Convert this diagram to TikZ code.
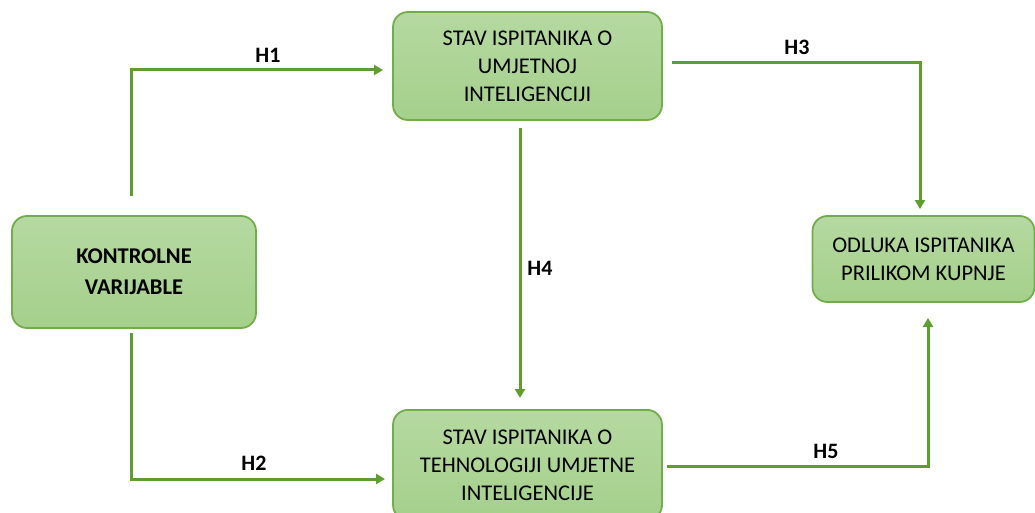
\documentclass[tikz,border=0pt]{standalone}
\usepackage{fontspec}
\setmainfont{Carlito}
\usetikzlibrary{arrows.meta}
\definecolor{boxtop}{HTML}{B5D9A1}
\definecolor{boxbot}{HTML}{A5D08B}
\definecolor{boxline}{HTML}{72AD4C}
\definecolor{linkc}{HTML}{5E9E30}
\tikzset{
  box/.style={draw=boxline, line width=1.8pt, rounded corners=15pt, top color=boxtop, bottom color=boxbot, align=center, font=\fontsize{22.5}{28}\selectfont, inner sep=0pt},
  link/.style={draw=linkc, line width=3pt, -{Triangle[length=9pt,width=10pt]}},
  hlab/.style={font=\fontsize{22}{24}\selectfont\bfseries}
}
\begin{document}
\begin{tikzpicture}[x=1pt,y=-1pt]
\useasboundingbox (0,0) rectangle (1035,513);
\node[box, minimum width=269pt, minimum height=108pt] (top) at (527.5,66) {STAV ISPITANIKA O\\UMJETNOJ\\INTELIGENCIJI};
\node[box, minimum width=244pt, minimum height=112pt, font=\fontsize{22.5}{31}\selectfont\bfseries] (left) at (134,272) {KONTROLNE\\VARIJABLE};
\node[box, minimum width=222pt, minimum height=86pt] (right) at (923.5,259) {ODLUKA ISPITANIKA\\PRILIKOM KUPNJE};
\node[box, minimum width=269pt, minimum height=110pt, anchor=north] (bot) at (527.5,409) {STAV ISPITANIKA O\\TEHNOLOGIJI UMJETNE\\INTELIGENCIJE};
\coordinate (a1) at (131,196);
\coordinate (b1) at (383,70);
\draw[link] (a1) |- (b1);
\coordinate (a2) at (131,333);
\coordinate (b2) at (385,479);
\draw[link] (a2) |- (b2);
\coordinate (a3) at (672,63);
\coordinate (b3) at (920,209);
\draw[link] (a3) -| (b3);
\coordinate (a4) at (520,128);
\coordinate (b4) at (520,398);
\draw[link] (a4) -- (b4);
\coordinate (a5) at (667,466);
\coordinate (b5) at (928,318);
\draw[link] (a5) -| (b5);
\node[hlab] (h1) at (268,55) {H1};
\node[hlab] (h2) at (254,463) {H2};
\node[hlab] (h3) at (797,47) {H3};
\node[hlab] (h4) at (540,268) {H4};
\node[hlab] (h5) at (826,451) {H5};
\end{tikzpicture}
\end{document}
